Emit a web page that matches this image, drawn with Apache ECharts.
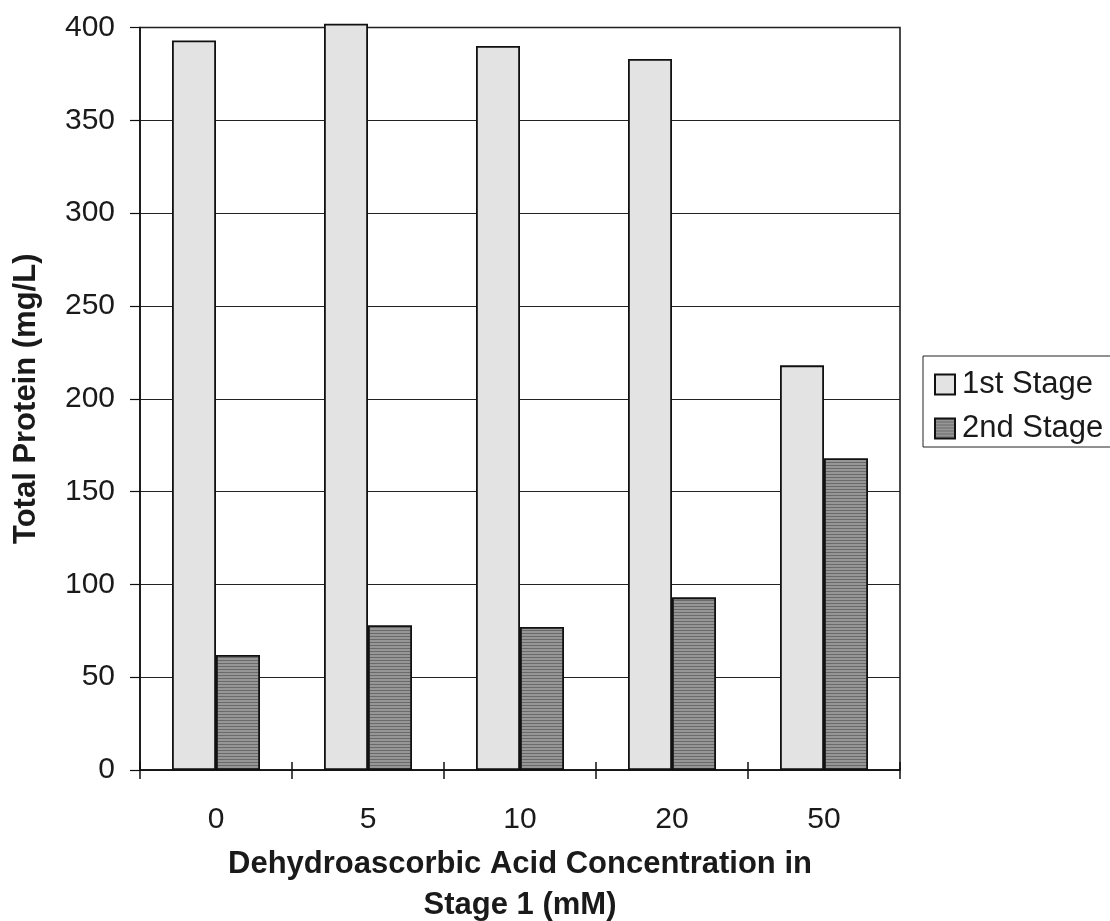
<!DOCTYPE html>
<html>
<head>
<meta charset="utf-8">
<title>Total Protein by Dehydroascorbic Acid Concentration</title>
<script src="https://cdn.jsdelivr.net/npm/echarts@6/dist/echarts.min.js"></script>
<style>
  html, body { margin: 0; padding: 0; background: #ffffff; }
  #chart { width: 1110px; height: 921px; }
</style>
</head>
<body>
<div id="chart"></div>
<script>
// Dehydroascorbic acid concentration in stage 1 (mM)
const concentrations = ['0', '5', '10', '20', '50'];
// Total protein (mg/L)
const firstStage = [393, 402, 390, 383, 218];
const secondStage = [62, 78, 77, 93, 168];
const seriesNames = ['1st Stage', '2nd Stage'];

const FONT = "'Liberation Sans', Arial, sans-serif";
const INK = '#1a1a1a';

// Horizontal-line hatch used for the 2nd stage bars
function hatchPattern() {
  const c = document.createElement('canvas');
  c.width = 4;
  c.height = 3;
  const g = c.getContext('2d');
  g.fillStyle = '#969696';
  g.fillRect(0, 0, 4, 3);
  g.fillStyle = '#6a6a6a';
  g.fillRect(0, 0, 4, 1);
  return c;
}

const chart = echarts.init(document.getElementById('chart'), null, { renderer: 'canvas' });

const option = {
  backgroundColor: '#ffffff',
  animation: false,
  textStyle: { fontFamily: FONT, color: INK },
  grid: {
    left: 140, right: 210, top: 27.5, bottom: 151,
    outerBoundsMode: 'none',
    containLabel: false,
    show: true, borderColor: '#111', borderWidth: 1.5, backgroundColor: 'transparent'
  },
  legend: {
    orient: 'vertical',
    left: 923, top: 356,
    padding: [13, 10, 3, 11],
    itemGap: 13,
    itemWidth: 20, itemHeight: 20,
    icon: 'rect',
    borderColor: '#222', borderWidth: 1,
    backgroundColor: '#ffffff',
    data: seriesNames,
    textStyle: { fontFamily: FONT, fontSize: 31, color: INK, padding: [0, 0, 0, 2] }
  },
  xAxis: [
    {
      type: 'category',
      data: concentrations,
      position: 'bottom',
      boundaryGap: true,
      axisLine: { show: true, lineStyle: { color: '#111', width: 1.5 } },
      axisTick: { show: true, alignWithLabel: false, interval: 0, length: 9, lineStyle: { color: '#111', width: 1.5 } },
      axisLabel: { fontFamily: FONT, fontSize: 30, color: INK, margin: 35, interval: 0 },
      splitLine: { show: false },
      name: 'Dehydroascorbic Acid Concentration in\nStage 1 (mM)',
      nameLocation: 'middle',
      nameGap: 74,
      nameTextStyle: { fontFamily: FONT, fontSize: 31, fontWeight: 'bold', color: INK, lineHeight: 41 }
    },
    {
      // inner half of the crossing tick marks
      type: 'category',
      data: concentrations,
      position: 'bottom',
      boundaryGap: true,
      axisLine: { show: false },
      axisTick: { show: true, inside: true, alignWithLabel: false, interval: 0, length: 8, lineStyle: { color: '#111', width: 1.5 } },
      axisLabel: { show: false },
      splitLine: { show: false }
    }
  ],
  yAxis: {
    type: 'value',
    min: 0, max: 400, interval: 50,
    axisLine: { show: true, lineStyle: { color: '#111', width: 1.5 } },
    axisTick: { show: true, length: 10, lineStyle: { color: '#111', width: 1.2 } },
    axisLabel: { fontFamily: FONT, fontSize: 30, color: INK, margin: 25 },
    splitLine: { show: true, lineStyle: { color: '#222', width: 1.2 } },
    name: 'Total Protein (mg/L)',
    nameLocation: 'middle',
    nameGap: 98,
    nameTextStyle: { fontFamily: FONT, fontSize: 31, fontWeight: 'bold', color: INK }
  },
  series: [
    {
      name: seriesNames[0],
      type: 'bar',
      xAxisIndex: 0,
      data: firstStage,
      barWidth: 44,
      barGap: '0%',
      clip: false,
      itemStyle: { color: '#e3e3e3', borderColor: '#111', borderWidth: 1.8 }
    },
    {
      name: seriesNames[1],
      type: 'bar',
      xAxisIndex: 0,
      data: secondStage,
      barWidth: 44,
      barGap: '0%',
      clip: false,
      itemStyle: { color: { image: hatchPattern(), repeat: 'repeat' }, borderColor: '#111', borderWidth: 1.8 }
    }
  ]
};

chart.setOption(option);
</script>
</body>
</html>
